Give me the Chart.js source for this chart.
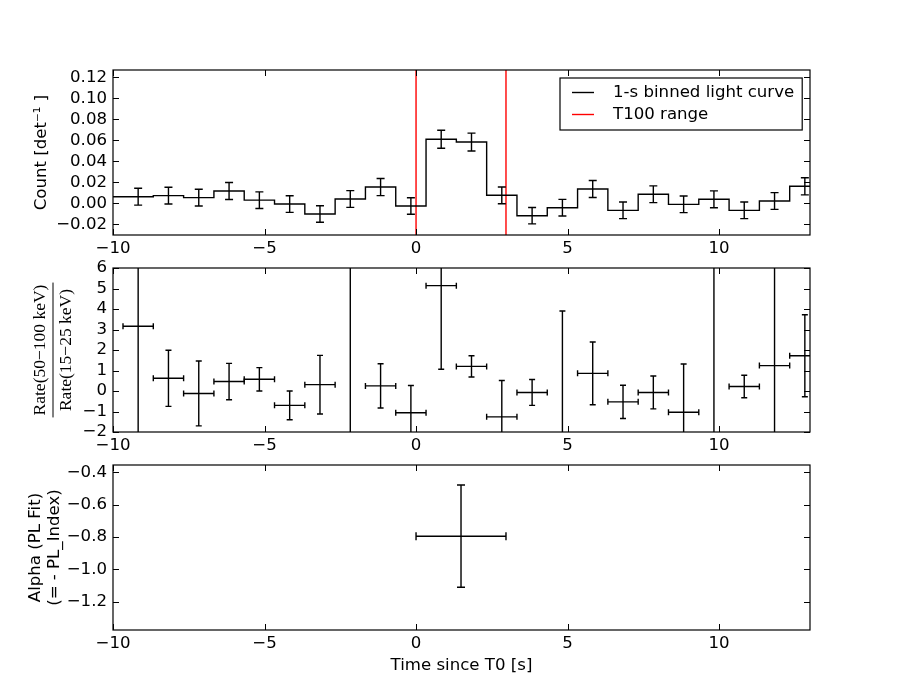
<!DOCTYPE html>
<html>
<head>
<meta charset="utf-8">
<script src="https://cdn.jsdelivr.net/npm/chart.js@4.4.0/dist/chart.umd.min.js"></script>
<style>
body { margin: 0; background: #fff; }
#wrap { position: relative; width: 900px; height: 700px; }
#wrap canvas { position: absolute; left: 0; top: 0; }
</style>
</head>
<body>
<div id="wrap">
  <canvas id="lc" width="900" height="700"></canvas>
  <canvas id="hr" width="900" height="700"></canvas>
  <canvas id="alpha" width="900" height="700"></canvas>
</div>
<script>
// light curve, 1-s bins (centres)
const lcTimes = [-10.17, -9.17, -8.17, -7.17, -6.17, -5.17, -4.17, -3.17, -2.17, -1.17, -0.17, 0.83,
                 1.83, 2.83, 3.83, 4.83, 5.83, 6.83, 7.83, 8.83, 9.83, 10.83, 11.83, 12.83];
const lcCounts = [0.0063, 0.0063, 0.0073, 0.0054, 0.0117, 0.0030, -0.0007, -0.0102, 0.0041, 0.0155, -0.0026, 0.0610,
                  0.0584, 0.0076, -0.0118, -0.0042, 0.0136, -0.0067, 0.0086, -0.0010, 0.0038, -0.0067, 0.0022, 0.0162];
const lcErr = [0.0080, 0.0080, 0.0080, 0.0080, 0.0081, 0.0079, 0.0079, 0.0078, 0.0080, 0.0082, 0.0079, 0.0086,
               0.0085, 0.0080, 0.0078, 0.0079, 0.0081, 0.0079, 0.0080, 0.0079, 0.0080, 0.0079, 0.0080, 0.0082];
const binHalf = 0.5;
const t100 = [0, 2.968];

// hardness ratio
const hrTimes = [-9.17, -8.17, -7.17, -6.17, -5.17, -4.17, -3.17, -2.17, -1.17, -0.17, 0.83, 1.83,
                 2.83, 3.83, 4.83, 5.83, 6.83, 7.83, 8.83, 9.83, 10.83, 11.83, 12.83];
const hrValues = [3.16, 0.62, -0.12, 0.46, 0.57, -0.70, 0.31, -4.0, 0.25, -1.06, 5.14, 1.20,
                  -1.26, -0.07, -3.0, 0.86, -0.53, -0.07, -1.04, -4.0, 0.22, 1.24, 1.72];
const hrErr = [9.0, 1.37, 1.58, 0.89, 0.57, 0.70, 1.43, 12.0, 1.08, 1.33, 4.08, 0.52,
               1.77, 0.63, 6.9, 1.53, 0.81, 0.80, 2.36, 12.0, 0.55, 8.0, 2.0];

// power-law index
const alphaTimes = [1.484];
const alphaTimeErr = [1.484];
const alphaValues = [-0.795];
const alphaErr = [0.316];

const xTicks = [-10, -5, 0, 5, 10];
const lcRange = [-0.0302, 0.127];
const hrRange = [-2, 6];
const alphaRange = [-1.375, -0.355];

const FONT = 'DejaVu Sans';
const FS = 16.6;
const minus = s => String(s).replace('-', '\u2212');

const errorBars = {
  id: 'errorBars',
  afterDatasetsDraw(chart) {
    const {ctx, chartArea: a, scales: {x, y}} = chart;
    ctx.save();
    ctx.beginPath();
    ctx.rect(a.left, a.top, a.width, a.height);
    ctx.clip();
    chart.data.datasets.forEach(ds => {
      if (!ds.errY && !ds.errX) return;
      const cap = ds.capSize;
      ctx.strokeStyle = '#000';
      ctx.lineWidth = 1.4;
      ds.data.forEach((p, i) => {
        const px = x.getPixelForValue(p.x), py = y.getPixelForValue(p.y);
        ctx.beginPath();
        if (ds.errY) {
          const t = y.getPixelForValue(p.y + ds.errY[i]);
          const b = y.getPixelForValue(p.y - ds.errY[i]);
          ctx.moveTo(px, t); ctx.lineTo(px, b);
          ctx.moveTo(px - cap, t); ctx.lineTo(px + cap, t);
          ctx.moveTo(px - cap, b); ctx.lineTo(px + cap, b);
        }
        if (ds.errX) {
          const l = x.getPixelForValue(p.x - ds.errX[i]);
          const r = x.getPixelForValue(p.x + ds.errX[i]);
          ctx.moveTo(l, py); ctx.lineTo(r, py);
          ctx.moveTo(l, py - cap); ctx.lineTo(l, py + cap);
          ctx.moveTo(r, py - cap); ctx.lineTo(r, py + cap);
        }
        ctx.stroke();
      });
    });
    ctx.restore();
  }
};

// box round the plot with inward ticks on all four sides
const frame = {
  id: 'frame',
  afterDatasetsDraw(chart) {
    const {ctx, chartArea: a, scales: {x, y}} = chart;
    const len = 6;
    ctx.save();
    ctx.strokeStyle = '#000';
    ctx.lineWidth = 1;
    ctx.beginPath();
    x.ticks.forEach(t => {
      const px = Math.round(x.getPixelForValue(t.value)) + 0.5;
      ctx.moveTo(px, a.bottom); ctx.lineTo(px, a.bottom - len);
      ctx.moveTo(px, a.top); ctx.lineTo(px, a.top + len);
    });
    y.ticks.forEach(t => {
      const py = Math.round(y.getPixelForValue(t.value)) + 0.5;
      ctx.moveTo(a.left, py); ctx.lineTo(a.left + len, py);
      ctx.moveTo(a.right, py); ctx.lineTo(a.right - len, py);
    });
    ctx.stroke();
    ctx.lineWidth = 1.2;
    ctx.strokeRect(a.left, a.top, a.width, a.height);
    ctx.restore();
  }
};

const legendBox = {
  id: 'legendBox',
  afterDraw(chart) {
    const items = chart.data.datasets.filter(d => d.inLegend);
    if (!items.length) return;
    const {ctx, chartArea: a} = chart;
    ctx.save();
    ctx.font = FS + 'px "' + FONT + '"';
    const tw = Math.max(...items.map(d => ctx.measureText(d.label).width));
    const w = 53 + tw + 8, h = 52;
    const bx = Math.round(a.right - 8 - w), by = a.top + 8;
    ctx.fillStyle = '#fff';
    ctx.fillRect(bx, by, w, h);
    ctx.strokeStyle = '#000';
    ctx.lineWidth = 1.2;
    ctx.strokeRect(bx, by, w, h);
    items.forEach((d, i) => {
      const cy = by + 14.5 + i * 22;
      ctx.strokeStyle = d.borderColor;
      ctx.lineWidth = 1.4;
      ctx.beginPath();
      ctx.moveTo(bx + 12, cy); ctx.lineTo(bx + 34, cy);
      ctx.stroke();
      ctx.fillStyle = '#000';
      ctx.textBaseline = 'middle';
      ctx.fillText(d.label, bx + 53, cy);
    });
    ctx.restore();
  }
};

const ratioLabel = ['Rate(50\u2212100 keV)', 'Rate(15\u221225 keV)'];
const ratioTitle = {
  id: 'ratioTitle',
  afterDraw(chart) {
    const {ctx, chartArea: a} = chart;
    const cy = (a.top + a.bottom) / 2;
    ctx.save();
    ctx.translate(53, cy);
    ctx.rotate(-Math.PI / 2);
    ctx.font = '17.5px "Liberation Serif"';
    ctx.fillStyle = '#000';
    ctx.textAlign = 'center';
    ctx.textBaseline = 'middle';
    ctx.fillText(ratioLabel[0], 0, -13);
    ctx.fillText(ratioLabel[1], 0, 13);
    const w = Math.max(ctx.measureText(ratioLabel[0]).width, ctx.measureText(ratioLabel[1]).width) + 4;
    ctx.strokeStyle = '#000';
    ctx.lineWidth = 1;
    ctx.beginPath();
    ctx.moveTo(-w / 2, 0); ctx.lineTo(w / 2, 0);
    ctx.stroke();
    ctx.restore();
  }
};

function xScale(height, showTitle) {
  return {
    type: 'linear', min: -10, max: 13,
    afterBuildTicks: s => { s.ticks = xTicks.map(v => ({value: v})); },
    afterFit: s => { s.height = height; },
    grid: {display: false, drawTicks: false},
    border: {display: false},
    ticks: {color: '#000', font: {family: FONT, size: FS}, padding: 4, maxRotation: 0, autoSkip: false,
            callback: v => minus(v)},
    title: {display: showTitle, text: 'Time since T0 [s]', color: '#000',
            font: {family: FONT, size: FS, lineHeight: 1.2}, padding: {top: 0, bottom: 24}}
  };
}

function yScale(range, step, digits, title, titlePad) {
  return {
    type: 'linear', min: range[0], max: range[1],
    afterFit: s => { s.width = 113; },
    grid: {display: false, drawTicks: false},
    border: {display: false},
    ticks: {color: '#000', font: {family: FONT, size: FS}, padding: 6, stepSize: step, includeBounds: false,
            autoSkip: false,
            callback: v => minus((Math.abs(v) < 1e-9 ? 0 : v).toFixed(digits))},
    title: {display: !!title, text: title, color: '#000',
            font: {family: FONT, size: FS, lineHeight: 1.15}, padding: {top: titlePad, bottom: 0}}
  };
}

function baseOptions(top, bottom, x, y) {
  return {
    responsive: false, animation: false, devicePixelRatio: 1,
    layout: {padding: {top: top, bottom: bottom, left: 0, right: 90}},
    plugins: {legend: {display: false}, tooltip: {enabled: false}},
    scales: {x: x, y: y}
  };
}

// panel 1: light curve
const stepPoints = lcTimes.map((t, i) => ({x: t - binHalf, y: lcCounts[i]}));
stepPoints.push({x: lcTimes[lcTimes.length - 1] + binHalf, y: lcCounts[lcCounts.length - 1]});

new Chart(document.getElementById('lc'), {
  type: 'scatter',
  data: {
    datasets: [
      {type: 'line', label: '1-s binned light curve', inLegend: true, data: stepPoints, stepped: 'before',
       borderColor: '#000', borderWidth: 1.4, pointRadius: 0, fill: false},
      {label: 'errors', data: lcTimes.map((t, i) => ({x: t, y: lcCounts[i]})), errY: lcErr, capSize: 4,
       pointRadius: 0, borderWidth: 0},
      {type: 'line', label: 'T100 range', inLegend: true,
       data: [{x: t100[0], y: lcRange[0]}, {x: t100[0], y: lcRange[1]}],
       borderColor: '#ff0000', borderWidth: 1.4, pointRadius: 0},
      {type: 'line', label: 'T100 end',
       data: [{x: t100[1], y: lcRange[0]}, {x: t100[1], y: lcRange[1]}],
       borderColor: '#ff0000', borderWidth: 1.4, pointRadius: 0}
    ]
  },
  options: baseOptions(70, 700 - 235 - 27, xScale(27, false),
                       yScale(lcRange, 0.02, 2, 'Count [det\u207B\u00B9 ]', 32)),
  plugins: [errorBars, frame, legendBox]
});

// panel 2: hardness ratio
new Chart(document.getElementById('hr'), {
  type: 'scatter',
  data: {
    datasets: [
      {label: 'ratio', data: hrTimes.map((t, i) => ({x: t, y: hrValues[i]})),
       errY: hrErr, errX: hrTimes.map(() => binHalf), capSize: 3, pointRadius: 0, borderWidth: 0}
    ]
  },
  options: baseOptions(268, 700 - 432 - 27, xScale(27, false), yScale(hrRange, 1, 0, '', 0)),
  plugins: [errorBars, frame, ratioTitle]
});

// panel 3: alpha
new Chart(document.getElementById('alpha'), {
  type: 'scatter',
  data: {
    datasets: [
      {label: 'alpha', data: alphaTimes.map((t, i) => ({x: t, y: alphaValues[i]})),
       errY: alphaErr, errX: alphaTimeErr, capSize: 4, pointRadius: 0, borderWidth: 0}
    ]
  },
  options: baseOptions(465, 0, xScale(70, true),
                       yScale(alphaRange, 0.2, 1, ['Alpha (PL Fit)', '(= - PL_Index)'], 26)),
  plugins: [errorBars, frame]
});
</script>
</body>
</html>
